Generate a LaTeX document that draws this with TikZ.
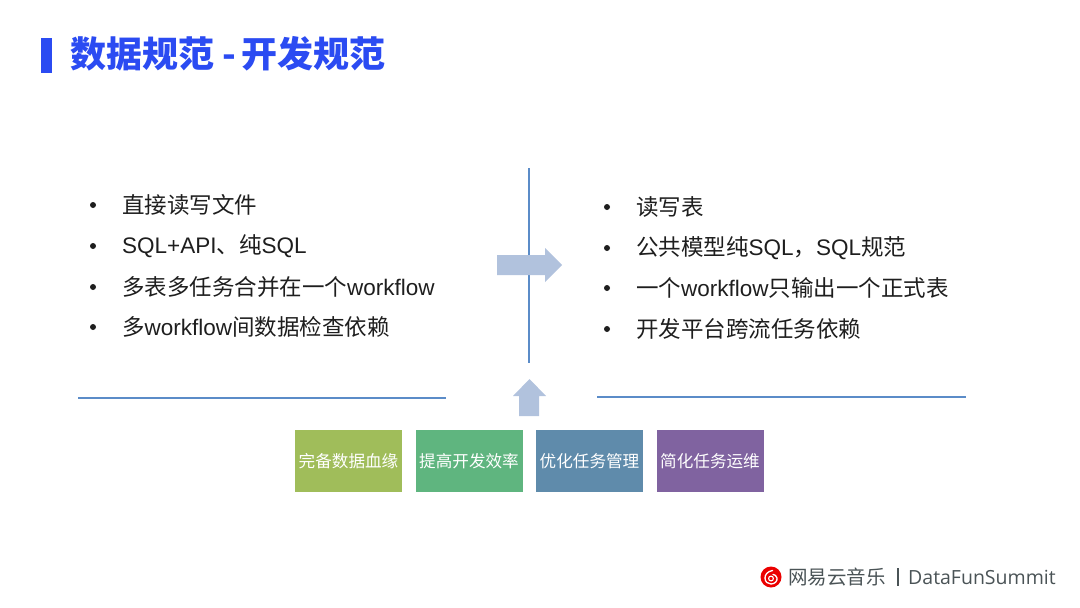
\documentclass[tikz,border=0pt]{standalone}
\usepackage{fontspec}
\setmainfont{Liberation Sans}
\newfontfamily\cjk{Noto Sans CJK SC}
\newfontfamily\foot{Open Sans}
\definecolor{titleblue}{HTML}{2B4BF2}
\definecolor{rulecol}{HTML}{5B8CC8}
\definecolor{arrowcol}{HTML}{B1C2DD}
\definecolor{boxa}{HTML}{A0BD5A}
\definecolor{boxb}{HTML}{5FB57F}
\definecolor{boxc}{HTML}{5F8BAB}
\definecolor{boxd}{HTML}{8063A0}
\definecolor{bodycol}{HTML}{1E1E1E}
\definecolor{footcol}{HTML}{4A5356}
\tikzset{
    rulestyle/.style={draw=rulecol,line width=1.8pt},
    blockarrow/.style={fill=arrowcol},
    itemtext/.style={anchor=west,inner sep=0pt,text=bodycol,font=\fontsize{22.5}{24}\selectfont},
    itemdot/.style={circle,fill=bodycol,minimum size=6pt,inner sep=0pt},
    goalbox/.style={minimum width=107pt,minimum height=62pt,inner sep=0pt,text=white,font=\cjk\fontsize{16.6}{20}\selectfont}
}
\begin{document}
\begin{tikzpicture}[x=1pt,y=-1pt]
    \useasboundingbox (0,0) rectangle (1080,608);
    % title
    \fill[titleblue] (41,38) rectangle (52,73);
    \node[anchor=west,inner sep=0pt,text=titleblue,font=\cjk\bfseries\fontsize{36}{38}\selectfont] (title) at (70,54) {数据规范\hspace{8pt}-\hspace{6pt}开发规范};
    % left list
    \foreach \n/\y/\t in {1/205/{\cjk 直接读写文件},2/246/{SQL+API{\cjk 、纯}SQL},3/287/{{\cjk 多表多任务合并在一个}workflow},4/327/{{\cjk 多}workflow{\cjk 间数据检查依赖}}}
    {%
        \node[itemdot] (dotl\n) at (93,\y) {};
        \node[itemtext] (iteml\n) at (122,\y) {\t};
    }%
    % right list
    \foreach \n/\y/\t in {1/207/{\cjk 读写表},2/248/{{\cjk 公共模型纯}SQL{\cjk ，}SQL{\cjk 规范}},3/288/{{\cjk 一个}workflow{\cjk 只输出一个正式表}},4/329/{\cjk 开发平台跨流任务依赖}}
    {%
        \node[itemdot] (dotr\n) at (607,\y) {};
        \node[itemtext] (itemr\n) at (636,\y) {\t};
    }%
    % rules
    \coordinate (vtop) at (529,168);
    \coordinate (vbot) at (529,363);
    \coordinate (la) at (78,398);
    \coordinate (lb) at (446,398);
    \coordinate (ra) at (597,397);
    \coordinate (rb) at (966,397);
    \draw[rulestyle] (vtop) -- (vbot);
    \draw[rulestyle] (la) -- (lb);
    \draw[rulestyle] (ra) -- (rb);
    % block arrows
    \fill[blockarrow] (497,255) -- (545,255) -- (545,248) -- (562,265) -- (545,282) -- (545,275) -- (497,275) -- cycle;
    \fill[blockarrow] (519,416) -- (519,396) -- (513,396) -- (529.5,379) -- (546,396) -- (539,396) -- (539,416) -- cycle;
    % boxes
    \foreach \n/\x/\c/\t in {1/348.5/boxa/完备数据血缘,2/469/boxb/提高开发效率,3/589.5/boxc/优化任务管理,4/710/boxd/简化任务运维}
    {%
        \node[goalbox,fill=\c] (goal\n) at (\x,461) {\t};
    }%
    % footer
    \node[circle,fill=red!92!black,minimum size=21pt,inner sep=0pt] (logo) at (771,577) {};
    \draw[white,line width=1.3pt,line cap=round] (772.5,570.5) .. controls (767,571.5) and (765,575) .. (765,578) .. controls (765,582) and (768,584) .. (771,584) .. controls (775,584) and (777.5,581) .. (777,578) .. controls (776.5,575.5) and (774.5,574.5) .. (773,574.5);
    \draw[white,line width=1.1pt] (771,578.5) circle (2.4pt);
    \node[anchor=west,inner sep=0pt,text=footcol,font=\cjk\fontsize{19.5}{22}\selectfont] (brand) at (788,577) {网易云音乐};
    \coordinate (bara) at (898,568);
    \coordinate (barb) at (898,586);
    \draw[footcol,line width=1.2pt] (bara) -- (barb);
    \node[anchor=west,inner sep=0pt,text=footcol,font=\foot\fontsize{19.5}{22}\selectfont] (summit) at (908,577) {DataFunSummit};
\end{tikzpicture}
\end{document}
